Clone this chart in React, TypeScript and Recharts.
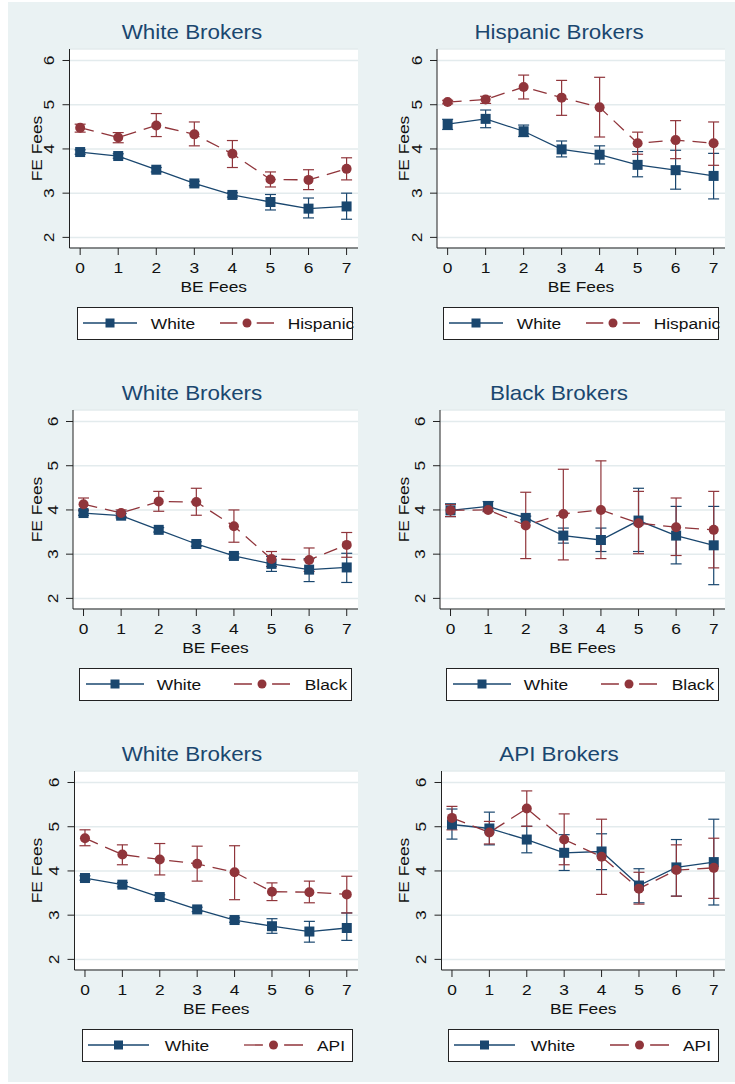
import React from "react";
import { ComposedChart, Line, XAxis, YAxis, CartesianGrid, ErrorBar } from "recharts";

const beFees = [0, 1, 2, 3, 4, 5, 6, 7];
const feTicks = [2, 3, 4, 5, 6];

// White brokers: white vs hispanic clients
const whHispWhite = [3.93, 3.84, 3.53, 3.22, 2.96, 2.8, 2.65, 2.7];
const whHispWhiteCI = [[3.88, 3.98], [3.79, 3.89], [3.48, 3.58], [3.17, 3.27], [2.91, 3.01], [2.62, 2.97], [2.44, 2.89], [2.41, 3.0]];
const whHispOther = [4.48, 4.26, 4.53, 4.33, 3.89, 3.31, 3.3, 3.55];
const whHispOtherCI = [[4.38, 4.56], [4.14, 4.37], [4.28, 4.8], [4.07, 4.61], [3.58, 4.19], [3.14, 3.48], [3.08, 3.53], [3.3, 3.8]];

// Hispanic brokers
const hiWhite = [4.56, 4.68, 4.4, 3.99, 3.87, 3.64, 3.52, 3.39];
const hiWhiteCI = [[4.44, 4.67], [4.48, 4.88], [4.28, 4.54], [3.82, 4.18], [3.66, 4.07], [3.37, 3.94], [3.09, 3.97], [2.87, 3.9]];
const hiOther = [5.06, 5.12, 5.4, 5.16, 4.94, 4.13, 4.2, 4.13];
const hiOtherCI = [[5.02, 5.1], [5.03, 5.19], [5.13, 5.67], [4.76, 5.55], [4.27, 5.62], [3.88, 4.38], [3.78, 4.64], [3.63, 4.61]];

// White brokers: white vs black clients
const whBlkWhite = [3.93, 3.87, 3.55, 3.23, 2.96, 2.78, 2.65, 2.7];
const whBlkWhiteCI = [[3.88, 3.98], [3.82, 3.92], [3.5, 3.6], [3.18, 3.28], [2.91, 3.01], [2.61, 2.95], [2.38, 2.9], [2.36, 3.02]];
const whBlkOther = [4.13, 3.93, 4.19, 4.18, 3.63, 2.89, 2.87, 3.21];
const whBlkOtherCI = [[4.0, 4.27], [3.85, 4.0], [3.97, 4.42], [3.88, 4.49], [3.27, 4.0], [2.72, 3.06], [2.61, 3.14], [2.93, 3.49]];

// Black brokers
const bkWhite = [3.99, 4.08, 3.82, 3.42, 3.32, 3.76, 3.42, 3.2];
const bkWhiteCI = [[3.85, 4.14], [3.97, 4.19], [3.78, 3.86], [3.25, 3.59], [3.06, 3.59], [3.06, 4.49], [2.78, 4.08], [2.31, 4.08]];
const bkOther = [3.99, 4.0, 3.65, 3.91, 4.0, 3.7, 3.61, 3.55];
const bkOtherCI = [[3.85, 4.12], [3.96, 4.04], [2.9, 4.4], [2.87, 4.92], [2.9, 5.11], [3.01, 4.42], [2.97, 4.27], [2.69, 4.42]];

// White brokers: white vs API clients
const whApiWhite = [3.84, 3.69, 3.41, 3.13, 2.89, 2.75, 2.63, 2.71];
const whApiWhiteCI = [[3.79, 3.89], [3.64, 3.74], [3.36, 3.46], [3.08, 3.18], [2.84, 2.94], [2.59, 2.92], [2.39, 2.86], [2.43, 3.05]];
const whApiOther = [4.74, 4.37, 4.26, 4.16, 3.97, 3.53, 3.52, 3.47];
const whApiOtherCI = [[4.57, 4.93], [4.14, 4.59], [3.91, 4.62], [3.77, 4.56], [3.35, 4.57], [3.33, 3.73], [3.28, 3.77], [3.05, 3.88]];

// API brokers
const apWhite = [5.05, 4.96, 4.71, 4.41, 4.44, 3.67, 4.08, 4.2];
const apWhiteCI = [[4.72, 5.4], [4.59, 5.33], [4.41, 5.01], [4.01, 4.82], [4.03, 4.84], [3.28, 4.05], [3.43, 4.71], [3.23, 5.17]];
const apOther = [5.2, 4.87, 5.41, 4.71, 4.32, 3.6, 4.02, 4.07];
const apOtherCI = [[4.93, 5.46], [4.61, 5.12], [5.01, 5.81], [4.14, 5.29], [3.47, 5.17], [3.25, 3.97], [3.43, 4.59], [3.38, 4.74]];

const NAVY = "#1a476f";
const MAROON = "#90353b";
const BG = "#eaf2f3";
const GRID = "#e3ebed";
const FONT = "'Liberation Sans', Arial, Helvetica, sans-serif";
const STRETCH = 1.12;

const ROW_TOP = [49, 410, 771];
const PLOT_H = 199;
const PAD = 12;

const panels = [
  { title: "White Brokers", group: "Hispanic", w: whHispWhite, wCI: whHispWhiteCI, g: whHispOther, gCI: whHispOtherCI, left: 69.5 },
  { title: "Hispanic Brokers", group: "Hispanic", w: hiWhite, wCI: hiWhiteCI, g: hiOther, gCI: hiOtherCI, left: 437 },
  { title: "White Brokers", group: "Black", w: whBlkWhite, wCI: whBlkWhiteCI, g: whBlkOther, gCI: whBlkOtherCI, left: 73 },
  { title: "Black Brokers", group: "Black", w: bkWhite, wCI: bkWhiteCI, g: bkOther, gCI: bkOtherCI, left: 440 },
  { title: "White Brokers", group: "API", w: whApiWhite, wCI: whApiWhiteCI, g: whApiOther, gCI: whApiOtherCI, left: 74.5 },
  { title: "API Brokers", group: "API", w: apWhite, wCI: apWhiteCI, g: apOther, gCI: apOtherCI, left: 441.5 },
];

// legend key layout per group: [line1 start, line1 end, text1 center, line2 start, line2 end, text2 center]
const legendKeys: Record<string, number[]> = {
  Hispanic: [6, 60, 96, 143, 197, 244],
  Black: [7, 65, 100, 155, 211, 247],
  API: [6, 67, 105, 162, 221, 249],
};
const legendBoxes = [
  [77, 275], [443, 275], [79, 272], [446, 272], [82, 270], [448, 270],
];

function STxt({ x, y, size = 15.5, fill = "#111", vertical = false, baseline = "central", children }: any) {
  return (
    <text
      x={x}
      y={y}
      textAnchor="middle"
      dominantBaseline={baseline}
      fontSize={size}
      fontFamily={FONT}
      fill={fill}
      style={{
        transformBox: "fill-box",
        transformOrigin: "center",
        transform: vertical ? `rotate(-90deg) scaleX(${STRETCH})` : `scaleX(${STRETCH})`,
      }}
    >
      {children}
    </text>
  );
}

const XTick = (props: any) => <STxt x={props.x} y={props.y}>{props.payload.value}</STxt>;
const YTick = (props: any) => <STxt x={props.x} y={props.y} vertical>{props.payload.value}</STxt>;

const SquareDot = (props: any) => {
  const { cx, cy, index } = props;
  return <rect key={`s${index}`} x={cx - 5} y={cy - 5} width={10} height={10} fill={NAVY} />;
};
const CircleDot = (props: any) => {
  const { cx, cy, index } = props;
  return <circle key={`c${index}`} cx={cx} cy={cy} r={5} fill={MAROON} />;
};

function Panel({ idx }: { idx: number }) {
  const p = panels[idx];
  const col = idx % 2;
  const row = Math.floor(idx / 2);
  const x0 = col === 0 ? 0 : 366;
  const right = col === 0 ? 358 : 725;
  const titleX = col === 0 ? 36 : 37;
  const data = beFees.map((b, i) => ({
    b,
    w: p.w[i],
    wErr: [p.w[i] - p.wCI[i][0], p.wCI[i][1] - p.w[i]],
    g: p.g[i],
    gErr: [p.g[i] - p.gCI[i][0], p.gCI[i][1] - p.g[i]],
  }));

  return (
    <div style={{ position: "absolute", left: x0, top: ROW_TOP[row] - PAD }}>
      <ComposedChart
        width={right + PAD - x0}
        height={PAD + PLOT_H + 60}
        data={data}
        margin={{ top: PAD, right: PAD, bottom: 0, left: 0 }}
      >
        <CartesianGrid vertical={false} fill="#ffffff" stroke={GRID} strokeWidth={1.5} />
        <XAxis
          type="number"
          dataKey="b"
          domain={[-0.28, 7.3]}
          ticks={beFees}
          interval={0}
          allowDataOverflow
          height={60}
          tickSize={7}
          tickMargin={12}
          stroke="#222"
          tick={XTick}
          label={{
            content: ({ viewBox }: any) => (
              <STxt x={viewBox.x + viewBox.width / 2} y={viewBox.y + 38}>BE Fees</STxt>
            ),
          }}
        />
        <YAxis
          type="number"
          domain={[1.76, 6.26]}
          ticks={feTicks}
          interval={0}
          allowDataOverflow
          width={p.left - x0}
          tickSize={7}
          tickMargin={14}
          stroke="#222"
          tick={YTick}
          label={{
            content: ({ viewBox }: any) => (
              <STxt x={viewBox.x + titleX} y={viewBox.y + viewBox.height / 2} vertical>FE Fees</STxt>
            ),
          }}
        />
        <Line
          type="linear"
          dataKey="w"
          stroke={NAVY}
          strokeWidth={1.3}
          dot={SquareDot}
          activeDot={false}
          isAnimationActive={false}
        >
          <ErrorBar dataKey="wErr" direction="y" width={5.5} stroke={NAVY} strokeWidth={1.2} isAnimationActive={false} />
        </Line>
        <Line
          type="linear"
          dataKey="g"
          stroke={MAROON}
          strokeWidth={1.3}
          strokeDasharray="14 8"
          dot={CircleDot}
          activeDot={false}
          isAnimationActive={false}
        >
          <ErrorBar dataKey="gErr" direction="y" width={5.5} stroke={MAROON} strokeWidth={1.2} isAnimationActive={false} />
        </Line>
      </ComposedChart>
    </div>
  );
}

function Overlay() {
  return (
    <svg width={735} height={1084} style={{ position: "absolute", left: 0, top: 0, pointerEvents: "none" }}>
      {panels.map((p, idx) => {
        const col = idx % 2;
        const top = ROW_TOP[Math.floor(idx / 2)];
        const [bx, bw] = legendBoxes[idx];
        const by = top + 258;
        const k = legendKeys[p.group];
        const my = by + 16;
        return (
          <g key={idx}>
            <STxt x={col === 0 ? 192 : 559} y={top - 10} size={20} fill={NAVY} baseline="alphabetic">
              {p.title}
            </STxt>
            <rect x={bx + 0.5} y={by + 0.5} width={bw} height={32} fill="#fff" stroke="#222" strokeWidth={1} />
            <line x1={bx + k[0]} x2={bx + k[1]} y1={my} y2={my} stroke={NAVY} strokeWidth={1.3} />
            <rect x={bx + (k[0] + k[1]) / 2 - 4.5} y={my - 4.5} width={9} height={9} fill={NAVY} />
            <STxt x={bx + k[2]} y={my}>White</STxt>
            <line
              x1={bx + k[3]}
              x2={bx + k[4]}
              y1={my}
              y2={my}
              stroke={MAROON}
              strokeWidth={1.3}
              strokeDasharray={`${(k[4] - k[3]) * 0.32} ${(k[4] - k[3]) * 0.36}`}
            />
            <circle cx={bx + (k[3] + k[4]) / 2} cy={my} r={4.5} fill={MAROON} />
            <STxt x={bx + k[5]} y={my}>{p.group}</STxt>
          </g>
        );
      })}
    </svg>
  );
}

export default function App() {
  return (
    <div style={{ position: "absolute", left: 0, top: 0, width: 735, height: 1084, background: "#fff" }}>
      <div style={{ position: "absolute", left: 8, top: 2, width: 727, height: 1080, background: BG }} />
      {panels.map((_, i) => (
        <Panel key={i} idx={i} />
      ))}
      <Overlay />
    </div>
  );
}
